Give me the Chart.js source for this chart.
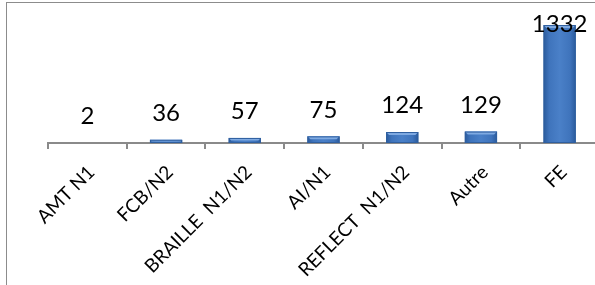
<!DOCTYPE html>
<html>
<head>
<meta charset="utf-8">
<script src="https://cdn.jsdelivr.net/npm/chart.js@4/dist/chart.umd.min.js"></script>
<style>
  html, body { margin: 0; padding: 0; background: #fff; overflow: hidden; }
  #frame { position: absolute; left: 6px; top: 2px; width: 620px; height: 300px; border: 1px solid #8c8c8c; }
  #wrap { position: absolute; left: 0; top: 0; width: 610px; height: 285px; }
</style>
</head>
<body>
<div id="frame"></div>
<div id="wrap"><canvas id="formations" width="610" height="285"></canvas></div>
<script>
var categories = ["AMT N1", "FCB/N2", "BRAILLE  N1/N2", "AI/N1", "REFLECT  N1/N2", "Autre", "FE"];
var effectifs = [2, 36, 57, 75, 124, 129, 1332];
var yMax = 1400;

!(function () {
  "use strict";

  // Excel-like bevelled bars, drawn over the library's bar elements
  var bevelBars = {
    id: "bevelBars",
    afterDatasetsDraw: function (chart) {
      var ctx = chart.ctx;
      chart.getDatasetMeta(0).data.forEach(function (bar) {
        var p = bar.getProps(["x", "y", "base", "width"], true),
          l = p.x - p.width / 2,
          r = p.x + p.width / 2,
          t = p.y,
          b = p.base,
          h = b - t,
          g = ctx.createLinearGradient(l, 0, r, 0);
        if (h < 1) return;
        g.addColorStop(0, "#2a5a9c");
        g.addColorStop(0.18, "#3f74bc");
        g.addColorStop(0.5, "#4a80c8");
        g.addColorStop(0.82, "#3f74bc");
        g.addColorStop(1, "#2a5a9c");
        ctx.save();
        ctx.fillStyle = g;
        ctx.fillRect(l, t, p.width, h);
        var bv = Math.min(3, h / 2);
        ctx.fillStyle = "#7faae2";
        ctx.beginPath();
        ctx.moveTo(l, t);
        ctx.lineTo(r, t);
        ctx.lineTo(r - bv, t + bv);
        ctx.lineTo(l + bv, t + bv);
        ctx.closePath();
        ctx.fill();
        ctx.strokeStyle = "#2f5f9f";
        ctx.lineWidth = 1;
        ctx.strokeRect(l + 0.5, t + 0.5, p.width - 1, h - 1);
        ctx.restore();
      });
    },
  };

  var valueLabels = {
    id: "valueLabels",
    afterDatasetsDraw: function (chart) {
      var ctx = chart.ctx,
        ds = chart.data.datasets[0];
      ctx.save();
      ctx.font = '24px Lato, "Open Sans", sans-serif';
      ctx.fillStyle = "#000";
      ctx.textAlign = "center";
      ctx.textBaseline = "middle";
      chart.getDatasetMeta(0).data.forEach(function (bar, i) {
        var y = Math.max(bar.y - 26.5, 24);
        ctx.fillText(String(ds.data[i]), bar.x, y);
      });
      ctx.restore();
    },
  };

  var ctx = document.getElementById("formations").getContext("2d");
  new Chart(ctx, {
    type: "bar",
    data: {
      labels: categories,
      datasets: [
        {
          data: effectifs,
          backgroundColor: "rgba(0,0,0,0)",
          borderWidth: 0,
          barPercentage: 0.41,
          categoryPercentage: 1,
        },
      ],
    },
    options: {
      responsive: false,
      animation: false,
      events: [],
      layout: { padding: { left: 48, right: 11, top: 19, bottom: 0 } },
      plugins: { legend: { display: false }, tooltip: { enabled: false } },
      scales: {
        y: { display: false, min: 0, max: yMax },
        x: {
          offset: true,
          afterFit: function (s) {
            s.height = 142;
          },
          border: { display: true, color: "#8a8a8a", width: 2 },
          grid: {
            offset: true,
            drawOnChartArea: false,
            drawTicks: true,
            tickLength: 6,
            color: "#8a8a8a",
            lineWidth: 2,
          },
          ticks: {
            minRotation: 45,
            maxRotation: 45,
            autoSkip: false,
            color: "#000",
            padding: 12,
            labelOffset: 4,
            font: { family: 'Lato, "Open Sans", sans-serif', size: 19 },
          },
        },
      },
    },
    plugins: [bevelBars, valueLabels],
  });
})();
</script>
</body>
</html>
